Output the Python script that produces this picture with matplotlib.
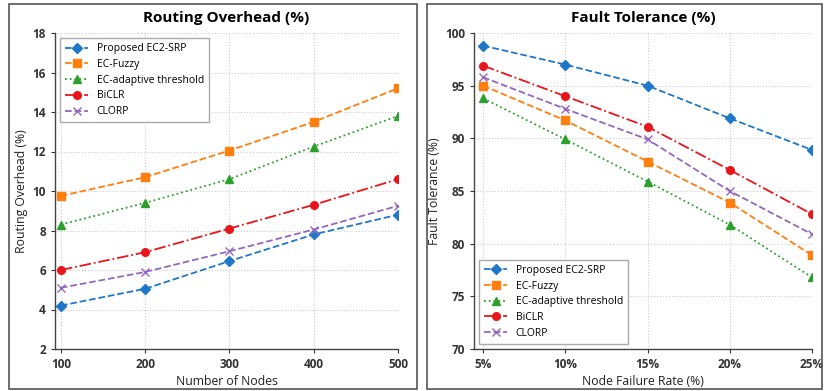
import matplotlib.pyplot as plt
from matplotlib.patches import Rectangle

plt.rcParams['font.family'] = ['Open Sans', 'DejaVu Sans']

# data
methods = ['Proposed EC2-SRP', 'EC-Fuzzy', 'EC-adaptive threshold', 'BiCLR', 'CLORP']
colors = ['#1f77c8', '#ff7f0e', '#2ca02c', '#e8161b', '#9467bd']
styles = ['--', '--', ':', '-.', '--']
markers = ['D', 's', '^', 'o', 'x']

nodes = [100, 200, 300, 400, 500]
overhead = {
    'Proposed EC2-SRP': [4.2, 5.05, 6.45, 7.8, 8.8],
    'EC-Fuzzy': [9.75, 10.7, 12.05, 13.5, 15.2],
    'EC-adaptive threshold': [8.3, 9.4, 10.6, 12.25, 13.8],
    'BiCLR': [6.0, 6.9, 8.1, 9.3, 10.6],
    'CLORP': [5.1, 5.9, 6.95, 8.05, 9.25],
}

failure_rate = [5, 10, 15, 20, 25]
failure_labels = ['5%', '10%', '15%', '20%', '25%']
tolerance = {
    'Proposed EC2-SRP': [98.8, 97.0, 95.0, 91.9, 88.9],
    'EC-Fuzzy': [95.0, 91.7, 87.8, 83.9, 78.9],
    'EC-adaptive threshold': [93.8, 89.9, 85.9, 81.8, 76.8],
    'BiCLR': [96.9, 94.0, 91.1, 87.0, 82.8],
    'CLORP': [95.8, 92.8, 89.9, 85.0, 80.9],
}

fig = plt.figure(figsize=(8.24, 3.91), dpi=100)

# panel frames
for x0, x1 in [(9, 417), (427, 822)]:
    fig.add_artist(Rectangle((x0 / 824, 2 / 391), (x1 - x0) / 824, 385 / 391,
                             transform=fig.transFigure, fill=False,
                             edgecolor='#555555', linewidth=1.2))

ax1 = fig.add_axes([55 / 824, 1 - 349 / 391, 343 / 824, 316 / 391])
ax2 = fig.add_axes([474 / 824, 1 - 349 / 391, 338 / 824, 316 / 391])


def style_axis(ax):
    ax.spines['top'].set_visible(False)
    ax.spines['right'].set_visible(False)
    for s in ['left', 'bottom']:
        ax.spines[s].set_color('#444444')
        ax.spines[s].set_linewidth(1.0)
    ax.grid(True, linestyle=':', color='#cccccc', linewidth=0.8)
    ax.tick_params(labelsize=8.5, colors='#333333', length=3)
    for lab in ax.get_xticklabels() + ax.get_yticklabels():
        lab.set_fontweight('bold')


for m, c, ls, mk in zip(methods, colors, styles, markers):
    ax1.plot(nodes, overhead[m], linestyle=ls, marker=mk, color=c,
             markersize=5.5, linewidth=1.3, label=m)
    ax2.plot(failure_rate, tolerance[m], linestyle=ls, marker=mk, color=c,
             markersize=5.5, linewidth=1.3, label=m)

ax1.set_xlim(93, 500)
ax1.set_ylim(2, 18)
ax1.set_xticks(nodes)
ax1.set_yticks(range(2, 19, 2))
ax1.set_title('Routing Overhead (%)', fontsize=11, fontweight='bold', pad=8)
ax1.set_xlabel('Number of Nodes', fontsize=8.8, color='#222222', labelpad=3)
ax1.set_ylabel('Routing Overhead (%)', fontsize=8.8, color='#222222', labelpad=3)
style_axis(ax1)
ax1.legend(loc='upper left', fontsize=7.5, fancybox=False, edgecolor='#aaaaaa',
           framealpha=1, handlelength=2.2, borderpad=0.5, labelspacing=0.45)

ax2.set_xlim(4.45, 25)
ax2.set_ylim(70, 100)
ax2.set_xticks(failure_rate)
ax2.set_xticklabels(failure_labels)
ax2.set_yticks(range(70, 101, 5))
ax2.set_title('Fault Tolerance (%)', fontsize=11, fontweight='bold', pad=8)
ax2.set_xlabel('Node Failure Rate (%)', fontsize=8.8, color='#222222', labelpad=3)
ax2.set_ylabel('Fault Tolerance (%)', fontsize=8.8, color='#222222', labelpad=3)
style_axis(ax2)
ax2.legend(loc='lower left', fontsize=7.5, fancybox=False, edgecolor='#aaaaaa',
           framealpha=1, handlelength=2.2, borderpad=0.5, labelspacing=0.45)

fig.savefig('out.png', dpi=100)
